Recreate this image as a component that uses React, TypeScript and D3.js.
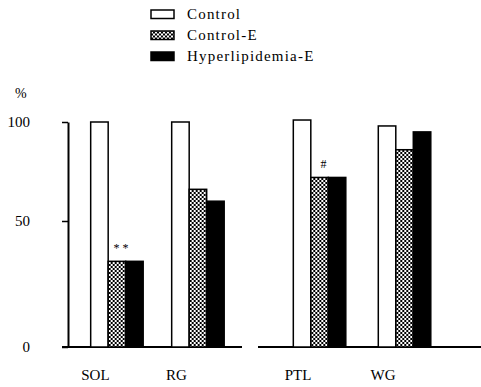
import React, { useRef, useEffect } from "react";
import * as d3 from "d3";

// muscle groups, split into two panels
const leftMuscles = ["SOL", "RG"];
const rightMuscles = ["PTL", "WG"];
const series = ["Control", "Control-E", "Hyperlipidemia-E"];

// % values
const controlValues = [100, 100, 101, 98];
const controlEValues = [34, 66, 72, 86];
const hyperEValues = [34, 60, 72, 95];

const yTicks = [0, 50, 100];
const marks = [
  { muscle: "SOL", text: "* *" },
  { muscle: "PTL", text: "#" },
];

const App = () => {
  const svgRef = useRef<SVGSVGElement>(null);

  useEffect(() => {
    const svg = d3.select(svgRef.current);
    svg.selectAll("*").remove();
    const width = 481;
    const height = 387;
    const font = "'Liberation Serif', 'Times New Roman', serif";

    svg.attr("width", width).attr("height", height).style("display", "block");

    const defs = svg.append("defs");
    const pat = defs
      .append("pattern")
      .attr("id", "checks")
      .attr("patternUnits", "userSpaceOnUse")
      .attr("width", 4)
      .attr("height", 4);
    pat.append("rect").attr("width", 4).attr("height", 4).attr("fill", "#000");
    pat.append("rect").attr("width", 2).attr("height", 2).attr("fill", "#fff");
    pat.append("rect").attr("x", 2).attr("y", 2).attr("width", 2).attr("height", 2).attr("fill", "#fff");

    const fills = ["#fff", "url(#checks)", "#000"];

    const muscles = [...leftMuscles, ...rightMuscles];
    const rows = muscles.map((m, i) => ({
      muscle: m,
      values: [controlValues[i], controlEValues[i], hyperEValues[i]],
    }));

    // y scale (scanned figure is slightly stretched below 50)
    const y = d3.scaleLinear().domain([0, 50, 100]).range([347, 221, 122]);

    const xLeft = d3
      .scaleBand()
      .domain(leftMuscles)
      .range([68, 242])
      .paddingInner(0.352)
      .paddingOuter(0.25)
      .align(0.56);
    const xRight = d3
      .scaleBand()
      .domain(rightMuscles)
      .range([258, 481])
      .paddingInner(0.382)
      .paddingOuter(0.503)
      .align(0.413);
    const xGroup = (m: string) =>
      (leftMuscles.includes(m) ? xLeft(m) : xRight(m)) as number;

    const xInner = d3
      .scaleBand()
      .domain(series)
      .range([0, xLeft.bandwidth()]);

    // left y axis
    const axis = svg
      .append("g")
      .attr("transform", "translate(68,0)")
      .call(d3.axisLeft(y).tickValues(yTicks).tickSize(6).tickPadding(32).tickSizeOuter(0));
    axis.select(".domain").attr("stroke", "#000").attr("stroke-width", 2);
    axis.selectAll(".tick line").attr("stroke", "#000").attr("stroke-width", 1.5);
    axis
      .selectAll(".tick text")
      .attr("fill", "#000")
      .style("font-family", font)
      .style("font-size", "15px")
      .attr("dy", "0.3em");

    svg
      .append("text")
      .attr("x", 15)
      .attr("y", 98)
      .style("font-family", font)
      .style("font-size", "14px")
      .text("%");

    // baselines
    svg
      .append("line")
      .attr("x1", 62)
      .attr("x2", 242)
      .attr("y1", y(0))
      .attr("y2", y(0))
      .attr("stroke", "#000")
      .attr("stroke-width", 2);
    svg
      .append("line")
      .attr("x1", 258)
      .attr("x2", width)
      .attr("y1", y(0))
      .attr("y2", y(0))
      .attr("stroke", "#000")
      .attr("stroke-width", 2);

    // bars
    const groups = svg
      .selectAll(".grp")
      .data(rows)
      .enter()
      .append("g")
      .attr("class", "grp")
      .attr("transform", (d) => `translate(${xGroup(d.muscle)},0)`);

    groups
      .selectAll("rect")
      .data((d) => d.values.map((v, i) => ({ v, s: series[i], i })))
      .enter()
      .append("rect")
      .attr("x", (d) => xInner(d.s) as number)
      .attr("width", xInner.bandwidth())
      .attr("y", (d) => y(d.v))
      .attr("height", (d) => y(0) - y(d.v))
      .attr("fill", (d) => fills[d.i])
      .attr("stroke", "#000")
      .attr("stroke-width", 1.5);

    // category labels
    svg
      .selectAll(".cat")
      .data(muscles)
      .enter()
      .append("text")
      .attr("class", "cat")
      .attr("x", (d) => xGroup(d) + xInner.bandwidth() / 2 - 4)
      .attr("y", 380)
      .attr("text-anchor", "middle")
      .style("font-family", font)
      .style("font-size", "15px")
      .text((d) => d);

    // significance marks
    svg
      .selectAll(".sig")
      .data(marks)
      .enter()
      .append("text")
      .attr("class", "sig")
      .attr("x", (d) => xGroup(d.muscle) + (xInner("Control-E") as number) + xInner.bandwidth() / 2 + 4)
      .attr("y", (d) => {
        const i = muscles.indexOf(d.muscle);
        return y(controlEValues[i]) - 9;
      })
      .attr("text-anchor", "middle")
      .style("font-family", font)
      .style("font-size", "12px")
      .text((d) => d.text);

    // legend
    const legend = svg
      .selectAll(".leg")
      .data(series)
      .enter()
      .append("g")
      .attr("class", "leg")
      .attr("transform", (d, i) => `translate(151,${18.5 + i * 21})`);
    legend
      .append("rect")
      .attr("x", 0)
      .attr("y", -8.5)
      .attr("width", 23)
      .attr("height", 8.5)
      .attr("fill", (d, i) => fills[i])
      .attr("stroke", "#000")
      .attr("stroke-width", 1.5);
    legend
      .append("text")
      .attr("x", 36)
      .attr("y", 0)
      .style("font-family", font)
      .style("font-size", "15px")
      .style("letter-spacing", "1.2px")
      .text((d) => d);
  }, []);

  return (
    <div style={{ position: "absolute", left: 0, top: 0 }}>
      <svg ref={svgRef}></svg>
    </div>
  );
};

export default App;
